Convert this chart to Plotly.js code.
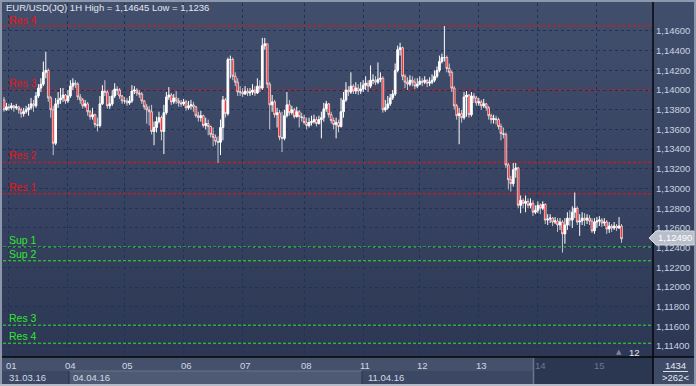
<!DOCTYPE html>
<html>
<head>
<meta charset="utf-8">
<script src="https://cdn.plot.ly/plotly-3.0.1.min.js"></script>
<style>
html,body{margin:0;padding:0;overflow:hidden;background:#2b3551;}
#chart{width:696px;height:386px;background:linear-gradient(to bottom,#424f6c 0%,#36425f 55%,#2b3551 100%);}
</style>
</head>
<body>
<div id="chart"></div>
<script>
// ---- data (EUR/USD 1H) ----
const firstOpen = 1.1390;
const closes = [
 1.1380,1.1383,1.1382,1.1384,1.1382,1.1383,1.1380,1.1376,1.1378,1.1380,
 1.1382,1.1386,1.1384,1.1394,1.1402,1.1406,1.1418,1.1420,1.1392,1.1380,
 1.1346,1.1386,1.1390,1.1392,1.1395,1.1389,1.1394,1.1404,1.1407,1.1406,
 1.1393,1.1390,1.1384,1.1386,1.1378,1.1373,1.1375,1.1365,1.1364,1.1386,
 1.1399,1.1398,1.1384,1.1386,1.1394,1.1401,1.1400,1.1394,1.1389,1.1389,
 1.1387,1.1389,1.1399,1.1400,1.1397,1.1396,1.1389,1.1383,1.1380,1.1378,
 1.1358,1.1362,1.1368,1.1372,1.1358,1.1377,1.1393,1.1395,1.1388,1.1392,
 1.1389,1.1387,1.1386,1.1388,1.1382,1.1384,1.1385,1.1383,1.1374,1.1372,
 1.1374,1.1364,1.1366,1.1363,1.1355,1.1352,1.1348,1.1347,1.1362,1.1390,
 1.1376,1.1431,1.1431,1.1414,1.1408,1.1398,1.1398,1.1396,1.1399,1.1397,
 1.1398,1.1400,1.1397,1.1404,1.1402,1.1445,1.1447,1.1406,1.1385,1.1388,
 1.1375,1.1377,1.1352,1.1351,1.1374,1.1385,1.1377,1.1380,1.1373,1.1378,
 1.1373,1.1372,1.1367,1.1364,1.1367,1.1368,1.1370,1.1366,1.1370,1.1372,
 1.1381,1.1386,1.1375,1.1369,1.1365,1.1367,1.1363,1.1378,1.1390,1.1400,
 1.1398,1.1404,1.1399,1.1402,1.1399,1.1401,1.1405,1.1407,1.1404,1.1410,
 1.1410,1.1408,1.1411,1.1412,1.1380,1.1382,1.1386,1.1392,1.1396,1.1420,
 1.1441,1.1443,1.1414,1.1408,1.1406,1.1410,1.1408,1.1404,1.1406,1.1409,
 1.1408,1.1410,1.1407,1.1408,1.1410,1.1414,1.1420,1.1429,1.1433,1.1433,
 1.1422,1.1418,1.1402,1.1384,1.1374,1.1376,1.1372,1.1393,1.1395,1.1375,
 1.1394,1.1392,1.1387,1.1388,1.1384,1.1386,1.1382,1.1374,1.1370,1.1371,
 1.1370,1.1363,1.1356,1.1355,1.1324,1.1309,1.1305,1.1319,1.1321,1.1283,
 1.1288,1.1285,1.1287,1.1283,1.1285,1.1276,1.1278,1.1283,1.1280,1.1284,
 1.1268,1.1269,1.1270,1.1266,1.1267,1.1263,1.1266,1.1254,1.1263,1.1270,
 1.1268,1.1276,1.1280,1.1266,1.1267,1.1270,1.1268,1.1270,1.1267,1.1257,
 1.1266,1.1267,1.1268,1.1265,1.1266,1.1259,1.1262,1.1260,1.1262,1.1260,
 1.1262,1.1249];
const highs = [
 1.1393,1.1387,1.1386,1.1387,1.1385,1.1386,1.1384,1.1382,1.1382,1.1384,
 1.1386,1.1392,1.1390,1.1398,1.1406,1.1412,1.1429,1.1439,1.1422,1.1394,
 1.1384,1.1392,1.1398,1.1402,1.1402,1.1396,1.1400,1.1410,1.1412,1.1410,
 1.1408,1.1396,1.1392,1.1390,1.1388,1.1380,1.1382,1.1376,1.1372,1.1394,
 1.1405,1.1410,1.1400,1.1394,1.1400,1.1407,1.1404,1.1402,1.1395,1.1393,
 1.1392,1.1394,1.1405,1.1404,1.1402,1.1400,1.1398,1.1390,1.1386,1.1384,
 1.1385,1.1368,1.1373,1.1378,1.1374,1.1385,1.1398,1.1403,1.1397,1.1396,
 1.1399,1.1392,1.1390,1.1391,1.1390,1.1389,1.1390,1.1388,1.1384,1.1378,
 1.1379,1.1375,1.1372,1.1370,1.1364,1.1362,1.1355,1.1353,1.1370,1.1394,
 1.1392,1.1433,1.1435,1.1433,1.1418,1.1412,1.1404,1.1402,1.1404,1.1402,
 1.1402,1.1406,1.1404,1.1412,1.1410,1.1453,1.1453,1.1447,1.1408,1.1395,
 1.1390,1.1382,1.1380,1.1378,1.1380,1.1398,1.1390,1.1384,1.1382,1.1383,
 1.1380,1.1377,1.1375,1.1372,1.1372,1.1374,1.1375,1.1373,1.1374,1.1378,
 1.1387,1.1389,1.1387,1.1378,1.1372,1.1372,1.1370,1.1392,1.1398,1.1408,
 1.1404,1.1418,1.1406,1.1408,1.1406,1.1408,1.1410,1.1414,1.1410,1.1425,
 1.1416,1.1414,1.1428,1.1418,1.1414,1.1390,1.1394,1.1396,1.1400,1.1427,
 1.1445,1.1448,1.1444,1.1416,1.1413,1.1415,1.1414,1.1412,1.1412,1.1414,
 1.1412,1.1414,1.1411,1.1413,1.1416,1.1420,1.1424,1.1435,1.1437,1.1465,
 1.1435,1.1427,1.1420,1.1404,1.1386,1.1382,1.1380,1.1398,1.1399,1.1396,
 1.1398,1.1397,1.1394,1.1392,1.1390,1.1391,1.1387,1.1384,1.1376,1.1375,
 1.1374,1.1372,1.1366,1.1362,1.1357,1.1326,1.1313,1.1326,1.1326,1.1322,
 1.1293,1.1290,1.1293,1.1290,1.1290,1.1288,1.1283,1.1287,1.1285,1.1287,
 1.1285,1.1274,1.1274,1.1271,1.1271,1.1270,1.1270,1.1268,1.1270,1.1276,
 1.1278,1.1282,1.1296,1.1282,1.1274,1.1276,1.1275,1.1274,1.1273,1.1270,
 1.1270,1.1271,1.1272,1.1270,1.1270,1.1268,1.1266,1.1264,1.1266,1.1264,
 1.1271,1.1264];
const lows = [
 1.1378,1.1379,1.1379,1.1380,1.1378,1.1380,1.1376,1.1372,1.1373,1.1376,
 1.1374,1.1380,1.1378,1.1382,1.1392,1.1398,1.1404,1.1412,1.1388,1.1372,
 1.1334,1.1344,1.1382,1.1386,1.1388,1.1386,1.1387,1.1392,1.1400,1.1402,
 1.1390,1.1386,1.1381,1.1382,1.1374,1.1370,1.1370,1.1362,1.1358,1.1362,
 1.1385,1.1394,1.1381,1.1381,1.1384,1.1392,1.1395,1.1391,1.1386,1.1386,
 1.1384,1.1385,1.1387,1.1396,1.1394,1.1392,1.1386,1.1380,1.1366,1.1364,
 1.1355,1.1344,1.1357,1.1366,1.1349,1.1335,1.1375,1.1390,1.1385,1.1386,
 1.1386,1.1383,1.1383,1.1384,1.1379,1.1380,1.1380,1.1378,1.1372,1.1368,
 1.1368,1.1362,1.1360,1.1354,1.1352,1.1343,1.1344,1.1326,1.1334,1.1349,
 1.1372,1.1374,1.1412,1.1410,1.1404,1.1394,1.1394,1.1393,1.1395,1.1394,
 1.1394,1.1395,1.1394,1.1396,1.1398,1.1400,1.1441,1.1402,1.1360,1.1378,
 1.1372,1.1362,1.1349,1.1337,1.1349,1.1372,1.1374,1.1375,1.1371,1.1372,
 1.1362,1.1368,1.1365,1.1360,1.1362,1.1364,1.1366,1.1363,1.1365,1.1351,
 1.1368,1.1378,1.1372,1.1366,1.1360,1.1351,1.1357,1.1362,1.1372,1.1388,
 1.1394,1.1396,1.1396,1.1396,1.1395,1.1396,1.1398,1.1400,1.1398,1.1402,
 1.1406,1.1405,1.1406,1.1408,1.1377,1.1378,1.1380,1.1384,1.1390,1.1394,
 1.1418,1.1435,1.1410,1.1402,1.1400,1.1404,1.1404,1.1401,1.1402,1.1405,
 1.1404,1.1406,1.1403,1.1404,1.1406,1.1408,1.1412,1.1418,1.1427,1.1429,
 1.1418,1.1414,1.1398,1.1380,1.1370,1.1345,1.1367,1.1370,1.1373,1.1372,
 1.1373,1.1387,1.1384,1.1384,1.1380,1.1382,1.1379,1.1370,1.1366,1.1366,
 1.1365,1.1360,1.1349,1.1351,1.1321,1.1299,1.1297,1.1302,1.1311,1.1280,
 1.1275,1.1280,1.1276,1.1280,1.1280,1.1272,1.1274,1.1275,1.1274,1.1278,
 1.1264,1.1263,1.1265,1.1262,1.1264,1.1256,1.1258,1.1235,1.1244,1.1258,
 1.1262,1.1260,1.1270,1.1263,1.1252,1.1263,1.1262,1.1264,1.1263,1.1255,
 1.1254,1.1260,1.1262,1.1261,1.1262,1.1254,1.1255,1.1256,1.1258,1.1257,
 1.1259,1.1245];

const dayIdx    = [2, 26, 49, 73, 97, 122, 146, 169, 193, 217, 241];
const dayLabels = ['01','04','05','06','07','08','11','12','13','14','15'];
const weekIdx    = [0, 26, 146];
const weekLabels = ['31.03.16','04.04.16','11.04.16'];

const yTickVals = [1.114,1.116,1.118,1.120,1.122,1.124,1.126,1.128,1.130,1.132,1.134,1.136,1.138,1.140,1.142,1.144,1.146];
const yTickText = ['1,11400','1,11600','1,11800','1,12000','1,12200','1,12400','1,12600','1,12800','1,13000','1,13200','1,13400','1,13600','1,13800','1,14000','1,14200','1,14400','1,14600'];

const levelNames  = ['Res 4','Res 3','Res 2','Res 1','Sup 1','Sup 2','Res 3','Res 4'];
const levelValues = [1.14651, 1.14000, 1.13267, 1.12947, 1.12407, 1.12267, 1.11613, 1.11430];
const levelKinds  = ['r','r','r','r','g','g','g','g'];

const titleText = 'EUR/USD(JQ) 1H High = 1,14645 Low = 1,1236';
const lastPriceText = '1,12490';
const barCountText = '1434';
const visibleText = '>262<';
const scrollText = '12';

// ---- build ----
const idx = closes.map((_, i) => i);
const opens = closes.map((c, i) => i === 0 ? firstOpen : closes[i - 1]);

const PX = x => (x - 3) / 650;
const PY = y => (357 - y) / 354;
const FONT = 'Liberation Sans, Arial, sans-serif';
const RED = '#ee1111', GREEN = '#2ee82e';

const trace = {
  type: 'candlestick', x: idx, open: opens, high: highs, low: lows, close: closes,
  increasing: {line: {color: '#ffffff', width: 1}, fillcolor: '#ffffff'},
  decreasing: {line: {color: '#ffffff', width: 0.7}, fillcolor: '#ff0000'},
  whiskerwidth: 0, hoverinfo: 'skip', showlegend: false
};

const rect = (x0, x1, y0, y1, color, layer) => ({type: 'rect', xref: 'paper', yref: 'paper',
  x0: PX(x0), x1: PX(x1), y0: PY(y1), y1: PY(y0), fillcolor: color, line: {width: 0}, layer: layer || 'above'});
const hline = (x0, x1, y, color, w) => ({type: 'line', xref: 'paper', yref: 'paper',
  x0: PX(x0), x1: PX(x1), y0: PY(y), y1: PY(y), line: {color: color, width: w || 1}, layer: 'above'});
const vline = (x, y0, y1, color, w) => ({type: 'line', xref: 'paper', yref: 'paper',
  x0: PX(x), x1: PX(x), y0: PY(y0), y1: PY(y1), line: {color: color, width: w || 1}, layer: 'above'});

const shapes = [];
levelValues.forEach((v, i) => {
  shapes.push({type: 'line', xref: 'paper', yref: 'y', x0: 0, x1: 1, y0: v, y1: v,
    line: {color: levelKinds[i] === 'r' ? RED : GREEN, width: 1, dash: '3px,2px'}, layer: 'between'});
});
// bottom strip
shapes.push(rect(0, 653, 357, 384, '#45516b'));
shapes.push(rect(0, 69, 371, 384, '#3b4763'));
shapes.push(rect(69, 362, 371, 384, '#4e5a74'));
shapes.push(hline(69, 362, 371, '#66728a'));
shapes.push(rect(362, 533, 371, 384, '#3b4763'));
shapes.push(vline(69, 371, 384, '#26314b'));
shapes.push(vline(362, 371, 384, '#26314b'));
shapes.push(rect(533, 653, 357, 384, '#2b3651'));
shapes.push(vline(533.5, 358, 384, '#6c768c', 1.5));
shapes.push(rect(653, 696, 357, 384, '#3e4a66'));
// axis lines
shapes.push(hline(0, 696, 357, '#05070c', 1.5));
shapes.push(vline(653, 0, 386, '#05070c', 1.5));
// right panel separator
shapes.push(hline(663, 688, 371.5, '#d8dde6', 1));
// outer border
shapes.push(rect(0, 696, 0, 2, '#8d97ab'));
shapes.push(rect(0, 2, 0, 386, '#8d97ab'));
shapes.push(rect(694, 696, 0, 386, '#8d97ab'));
shapes.push(rect(0, 696, 384, 386, '#b3bac8'));
// last price marker
shapes.push({type: 'path', xref: 'paper', yref: 'paper', layer: 'above',
  path: 'M' + PX(649) + ',' + PY(238) + ' L' + PX(656) + ',' + PY(231) + ' L' + PX(694) + ',' + PY(231) +
        ' L' + PX(694) + ',' + PY(245) + ' L' + PX(656) + ',' + PY(245) + ' Z',
  fillcolor: '#b9bfca', line: {color: '#d5d9e0', width: 1}});

const ann = [];
ann.push({xref: 'paper', yref: 'paper', x: PX(4), y: PY(7), xanchor: 'left', yanchor: 'middle',
  text: titleText, showarrow: false, font: {family: FONT, size: 9.5, color: '#e2e6ee'}});
levelValues.forEach((v, i) => {
  ann.push({xref: 'paper', yref: 'y', x: PX(7), y: v, xanchor: 'left', yanchor: 'bottom', yshift: i === 0 ? -2 : -1,
    text: levelNames[i], showarrow: false,
    font: {family: FONT, size: 10.5, color: levelKinds[i] === 'r' ? RED : GREEN}});
});
dayIdx.forEach((d, i) => {
  ann.push({xref: 'x', yref: 'paper', x: d, y: PY(365.5), xanchor: 'left', yanchor: 'middle', xshift: -5,
    text: dayLabels[i], showarrow: false,
    font: {family: FONT, size: 9.5, color: i >= 9 ? '#6d7891' : '#d2d8e4'}});
});
weekIdx.forEach((d, i) => {
  ann.push({xref: 'x', yref: 'paper', x: d, y: PY(377.5), xanchor: 'left', yanchor: 'middle', xshift: 3,
    text: weekLabels[i], showarrow: false, font: {family: FONT, size: 9.5, color: '#d2d8e4'}});
});
ann.push({xref: 'paper', yref: 'paper', x: PX(675.5), y: PY(365), xanchor: 'center', yanchor: 'middle',
  text: barCountText, showarrow: false, font: {family: FONT, size: 9.5, color: '#e6e9ef'}});
ann.push({xref: 'paper', yref: 'paper', x: PX(675.5), y: PY(377.5), xanchor: 'center', yanchor: 'middle',
  text: visibleText, showarrow: false, font: {family: FONT, size: 9.5, color: '#e6e9ef'}});
ann.push({xref: 'paper', yref: 'paper', x: PX(624), y: PY(352), xanchor: 'right', yanchor: 'middle',
  text: '▲', showarrow: false, font: {family: 'DejaVu Sans', size: 7, color: '#7c869c'}});
ann.push({xref: 'paper', yref: 'paper', x: PX(627), y: PY(352.5), xanchor: 'left', yanchor: 'middle',
  text: scrollText, showarrow: false, font: {family: FONT, size: 9.5, color: '#e6e9ef'}});
ann.push({xref: 'paper', yref: 'paper', x: PX(675), y: PY(238), xanchor: 'center', yanchor: 'middle',
  text: lastPriceText, showarrow: false, font: {family: FONT, size: 9.5, color: '#ffffff'}});

const GRID = '#1e335b';
const layout = {
  width: 696, height: 386,
  margin: {l: 3, r: 43, t: 3, b: 29, pad: 0},
  paper_bgcolor: 'rgba(0,0,0,0)', plot_bgcolor: 'rgba(0,0,0,0)',
  showlegend: false, dragmode: false, boxgap: 0, boxmode: 'overlay',
  font: {family: FONT, size: 9.5, color: '#d2d8e4'},
  xaxis: {range: [-0.4, 263.8], tickvals: dayIdx, showticklabels: false, ticks: '',
    showgrid: true, gridcolor: GRID, gridwidth: 1, griddash: '3px,3px',
    zeroline: false, showline: false, rangeslider: {visible: false}, fixedrange: true},
  yaxis: {range: [1.11290, 1.14884], side: 'right', tickvals: yTickVals, ticktext: yTickText,
    tickfont: {family: FONT, size: 9.5, color: '#c9d1e0'}, ticks: '', ticklabelstandoff: 2,
    showgrid: true, gridcolor: GRID, gridwidth: 1, griddash: '3px,3px',
    zeroline: false, showline: false, fixedrange: true},
  shapes: shapes, annotations: ann
};

Plotly.newPlot('chart', [trace], layout, {staticPlot: true, displayModeBar: false});
</script>
</body>
</html>
